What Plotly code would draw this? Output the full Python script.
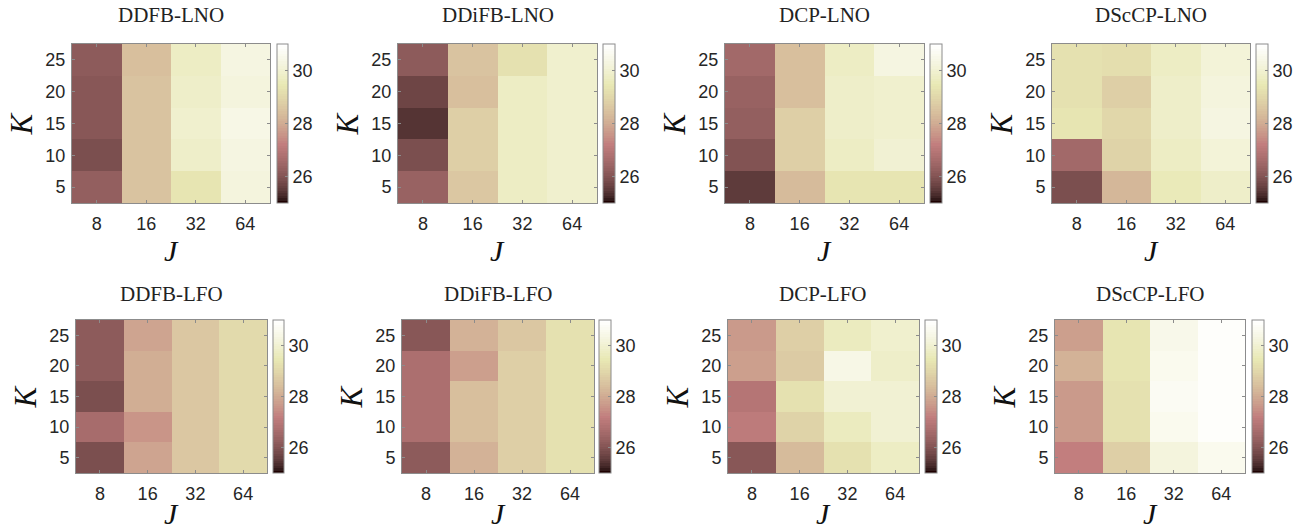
import numpy as np
import plotly.graph_objects as go

# ---------------- data ----------------
J_labels = ["8", "16", "32", "64"]
K_values = [5, 10, 15, 20, 25]
titles = ["DDFB-LNO", "DDiFB-LNO", "DCP-LNO", "DScCP-LNO",
          "DDFB-LFO", "DDiFB-LFO", "DCP-LFO", "DScCP-LFO"]

# rows: K = 5, 10, 15, 20, 25 ; columns: J = 8, 16, 32, 64
ddfb_lno = [[26.3, 28.5, 29.4, 30.2],
            [25.9, 28.5, 29.8, 30.3],
            [26.1, 28.5, 29.9, 30.4],
            [26.1, 28.5, 29.8, 30.2],
            [26.2, 28.4, 29.7, 30.3]]
ddifb_lno = [[26.4, 28.6, 29.7, 29.9],
             [25.9, 28.8, 29.7, 29.9],
             [25.4, 28.8, 29.7, 29.9],
             [25.7, 28.4, 29.7, 29.9],
             [26.2, 28.5, 29.3, 29.9]]
dcp_lno = [[25.5, 28.3, 29.4, 29.4],
           [26.0, 28.8, 29.7, 30.0],
           [26.3, 28.8, 29.8, 29.9],
           [26.4, 28.4, 29.8, 29.9],
           [26.5, 28.4, 29.7, 30.3]]
dsccp_lno = [[25.9, 28.2, 29.5, 29.8],
             [26.5, 28.9, 29.7, 30.1],
             [29.4, 29.0, 29.8, 30.3],
             [29.3, 28.8, 29.8, 30.2],
             [29.3, 29.2, 29.7, 30.1]]
ddfb_lfo = [[25.9, 27.9, 28.6, 29.1],
            [26.6, 27.6, 28.6, 29.1],
            [25.9, 28.0, 28.6, 29.1],
            [26.2, 28.0, 28.6, 29.1],
            [26.2, 27.9, 28.6, 29.1]]
ddifb_lfo = [[26.2, 28.1, 28.8, 29.3],
             [26.7, 28.4, 28.8, 29.3],
             [26.7, 28.4, 28.8, 29.3],
             [26.7, 27.8, 28.8, 29.3],
             [26.1, 28.1, 28.6, 29.3]]
dcp_lfo = [[26.1, 28.3, 29.3, 29.7],
           [27.1, 28.9, 29.6, 30.0],
           [26.9, 29.3, 30.0, 30.0],
           [27.8, 28.7, 30.4, 29.8],
           [27.7, 28.8, 29.6, 29.9]]
dsccp_lfo = [[27.2, 28.8, 30.2, 30.6],
             [27.7, 29.3, 30.6, 30.9],
             [27.7, 29.3, 30.7, 30.9],
             [28.1, 29.4, 30.6, 30.9],
             [27.8, 29.4, 30.5, 30.9]]
panels = [ddfb_lno, ddifb_lno, dcp_lno, dsccp_lno,
          ddfb_lfo, ddifb_lfo, dcp_lfo, dsccp_lfo]
cbar_ticks = [26, 28, 30]
ZMIN, ZMAX = 25.0, 31.0

# ---------------- MATLAB "pink" colormap ----------------
m = 64
n = int(3 / 8 * m)
r = np.concatenate([np.arange(1, n + 1) / n, np.ones(m - n)])
g = np.concatenate([np.zeros(n), np.arange(1, n + 1) / n, np.ones(m - 2 * n)])
b = np.concatenate([np.zeros(2 * n), np.arange(1, m - 2 * n + 1) / (m - 2 * n)])
hot = np.stack([r, g, b], axis=1)
gray = np.repeat((np.arange(m) / (m - 1))[:, None], 3, axis=1)
pink = np.sqrt((2 * gray + hot) / 3)
colorscale = []
for i, c in enumerate(pink):
    col = "rgb(%d,%d,%d)" % tuple(np.round(c * 255).astype(int))
    colorscale.append([i / m, col])
    colorscale.append([(i + 1) / m, col])

# ---------------- layout geometry (pixels) ----------------
W, H = 1309, 532
# (axes left, axes right, colorbar left, colorbar right)
top_x = [(72, 270, 277, 288), (398, 597, 603, 615), (725, 924, 930, 942), (1052, 1250, 1256, 1268)]
bot_x = [(76, 267, 273, 284), (402, 594, 599, 611), (728, 919, 925, 937), (1055, 1245, 1252, 1264)]
top_y = (44, 203)
bot_y = (320, 473)
title_off = [29, 26]
jlab_off = [47, 40]

fig = go.Figure()
annotations = []
tickfont = dict(family="Liberation Sans, Arial", size=18, color="#262626")
axcol = "#8c8c8c"
serif = "Liberation Serif, Times New Roman"

for i in range(8):
    row = i // 4
    xs = top_x[i % 4] if row == 0 else bot_x[i % 4]
    ys = top_y if row == 0 else bot_y
    ax_l, ax_r, cb_l, cb_r = xs
    y0, y1 = ys
    xa = "x" if i == 0 else "x%d" % (i + 1)
    ya = "y" if i == 0 else "y%d" % (i + 1)
    fig.add_trace(go.Heatmap(
        z=panels[i], x=list(range(4)), y=K_values,
        colorscale=colorscale, zmin=ZMIN, zmax=ZMAX,
        xaxis=xa, yaxis=ya, xgap=0, ygap=0,
        colorbar=dict(
            x=cb_l / W, xanchor="left", xpad=0, ypad=0,
            y=1 - (y0 + y1) / 2 / H, yanchor="middle",
            len=(y1 - y0) / H, lenmode="fraction",
            thickness=cb_r - cb_l, thicknessmode="pixels",
            outlinecolor=axcol, outlinewidth=1,
            tickvals=cbar_ticks, ticks="inside", ticklen=3, tickcolor=axcol,
            tickfont=tickfont,
        ),
    ))
    xkey = "xaxis" if i == 0 else "xaxis%d" % (i + 1)
    ykey = "yaxis" if i == 0 else "yaxis%d" % (i + 1)
    fig.layout[xkey] = dict(
        domain=[ax_l / W, ax_r / W], anchor=ya, range=[-0.5, 3.5],
        tickvals=list(range(4)), ticktext=J_labels, ticks="inside", ticklen=3,
        tickcolor=axcol, showline=True, linecolor=axcol, linewidth=1, mirror="ticks",
        showgrid=False, zeroline=False, tickfont=tickfont, fixedrange=True,
        ticklabelstandoff=4,
    )
    fig.layout[ykey] = dict(
        domain=[1 - y1 / H, 1 - y0 / H], anchor=xa, range=[2.5, 27.5],
        tickvals=K_values, ticks="inside", ticklen=3,
        tickcolor=axcol, showline=True, linecolor=axcol, linewidth=1, mirror="ticks",
        showgrid=False, zeroline=False, tickfont=tickfont, fixedrange=True,
        ticklabelstandoff=2,
    )
    cx = (ax_l + ax_r) / 2
    # title
    annotations.append(dict(
        text=titles[i], x=cx / W, y=1 - (y0 - title_off[row]) / H, xref="paper", yref="paper",
        xanchor="center", yanchor="middle", showarrow=False,
        font=dict(family=serif, size=21, color="#222222"),
    ))
    # J label
    annotations.append(dict(
        text="<i>J</i>", x=cx / W, y=1 - (y1 + jlab_off[row]) / H, xref="paper", yref="paper",
        xanchor="center", yanchor="middle", showarrow=False,
        font=dict(family=serif, size=30, color="#111111"),
    ))
    # K label
    annotations.append(dict(
        text="<i>K</i>", x=(ax_l - 51) / W, y=1 - (y0 + y1) / 2 / H, xref="paper", yref="paper",
        xanchor="center", yanchor="middle", showarrow=False, textangle=-90,
        font=dict(family=serif, size=31, color="#111111"),
    ))

fig.update_layout(
    width=W, height=H, margin=dict(l=0, r=0, t=0, b=0),
    paper_bgcolor="white", plot_bgcolor="white",
    annotations=annotations, showlegend=False,
)
fig.write_html("out.html")
